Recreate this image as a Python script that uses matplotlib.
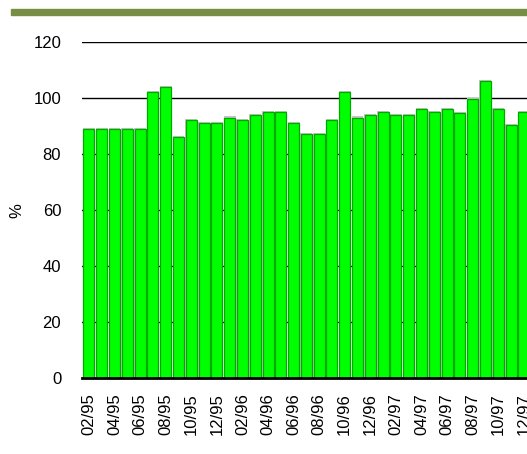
import matplotlib
matplotlib.use("Agg")
import matplotlib.pyplot as plt
from matplotlib.patches import Rectangle

plt.rcParams['font.family'] = ['Liberation Sans', 'DejaVu Sans']

# monthly values 02/95 .. 12/97
months = [f"{m:02d}/{y}" for y in (95, 96, 97) for m in range(1, 13)][1:]
values = [89, 89, 89, 89, 89, 102, 104, 86, 92, 91, 91,
          93, 92, 94, 95, 95, 91, 87, 87, 92, 102, 93, 94,
          95, 94, 94, 96, 95, 96, 94.5, 99.5, 106, 96.2, 90.2, 95]
yticks = [0, 20, 40, 60, 80, 100, 120]

fig = plt.figure(figsize=(5.27, 4.54), dpi=100)
# olive banner on top
fig.patches.append(Rectangle((10.7 / 527, 1 - 14.5 / 454), 1, 5.5 / 454,
                             transform=fig.transFigure, color='#778f45', zorder=0))

ax = fig.add_axes([82 / 527, 76 / 454, 445 / 527, 336 / 454])
x = list(range(len(values)))

ax.bar(x, [v + 0.4 for v in values], width=0.93, color='#c4c4c4', zorder=2)
ax.bar(x, values, width=0.86, color='#00ff00', edgecolor='#00a800', linewidth=0.9, zorder=3)

ax.set_xlim(-0.543, 34.25)
ax.set_ylim(0, 120)
ax.set_yticks(yticks)
ax.yaxis.grid(True, color='black', linewidth=1.0, zorder=1)
ax.set_axisbelow(True)

ax.set_xticks(x[::2])
ax.set_xticklabels(months[::2], rotation=90, fontsize=12)
ax.tick_params(axis='x', length=0, pad=11)
ax.tick_params(axis='y', length=0, pad=15, labelsize=12)

for s in ('left', 'right', 'top'):
    ax.spines[s].set_visible(False)
ax.spines['bottom'].set_linewidth(2)
ax.spines['bottom'].set_zorder(4)

fig.text(17 / 527, 1 - 211 / 454, '%', rotation=90, fontsize=12,
         ha='center', va='center')

fig.savefig('out.png', dpi=100)
